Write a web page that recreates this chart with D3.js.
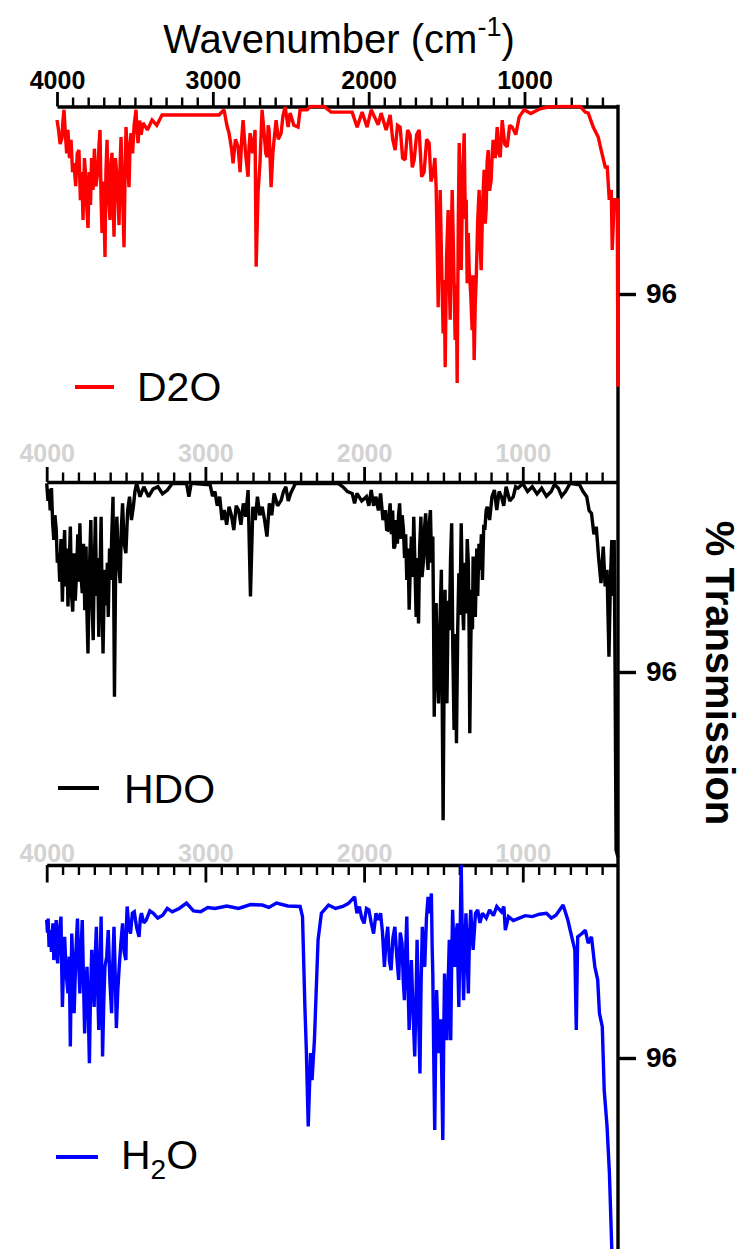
<!DOCTYPE html>
<html><head><meta charset="utf-8">
<script src="https://cdn.jsdelivr.net/npm/d3@7"></script>
<style>
body{margin:0;background:#fff;}
svg{display:block;font-family:"Liberation Sans",Arial,sans-serif;}
</style></head><body>
<svg id="chart" width="746" height="1249"></svg>
<script>
// ---------------- data ----------------
const xTickLabels = [4000, 3000, 2000, 1000];
const yTickValues = [96];
const seriesNames = ["D2O", "HDO", "H2O"];
const seriesColors = ["#ff0000", "#000000", "#0000ff"];

const d2oData = [[4000,99.71],[3990,99.5],[3980,99.2],[3968,99.33],[3962,99.7],[3955,99.93],[3946,99.4],[3938,99.0],[3930,99.5],[3920,98.9],[3910,99.29],[3900,98.6],[3891,98.79],[3880,98.3],[3870,99.0],[3859,99.07],[3850,98.0],[3841,98.6],[3833,97.58],[3824,98.9],[3814,98.43],[3808,97.8],[3801,97.41],[3793,98.6],[3785,97.9],[3778,98.9],[3769,98.22],[3760,99.1],[3750,98.3],[3737,98.65],[3730,99.2],[3724,99.50],[3717,98.0],[3711,97.30],[3702,98.4],[3692,96.79],[3686,98.6],[3679,99.29],[3670,98.1],[3660,97.58],[3653,98.8],[3647,99.01],[3640,98.0],[3634,97.22],[3625,98.9],[3615,98.50],[3608,98.0],[3602,97.47],[3595,98.8],[3589,99.35],[3580,98.2],[3570,97.00],[3563,98.6],[3557,99.56],[3548,98.9],[3538,98.28],[3531,99.2],[3525,99.43],[3515,99.0],[3505,99.6],[3493,99.93],[3487,99.5],[3480,99.22],[3470,99.7],[3460,99.4],[3448,99.65],[3420,99.5],[3390,99.71],[3360,99.6],[3326,99.82],[2960,99.82],[2928,99.93],[2910,99.6],[2896,99.43],[2880,99.1],[2870,98.79],[2855,99.3],[2838,99.14],[2825,98.60],[2815,99.3],[2806,99.71],[2790,99.0],[2774,98.50],[2768,99.1],[2761,99.43],[2745,99.0],[2729,99.50],[2722,96.58],[2710,98.15],[2697,98.82],[2684,99.93],[2671,99.43],[2660,99.0],[2652,98.92],[2645,99.6],[2639,99.50],[2626,98.28],[2615,99.0],[2607,99.29],[2594,99.71],[2580,99.3],[2562,99.43],[2550,99.8],[2536,99.99],[2517,99.56],[2504,99.86],[2480,99.6],[2453,99.56],[2440,99.93],[2395,99.93],[2376,100],[2286,100],[2241,99.88],[2106,99.88],[2074,99.56],[2042,99.88],[2010,99.56],[1984,99.93],[1939,99.61],[1920,99.86],[1888,99.50],[1862,99.82],[1846,99.3],[1830,99.07],[1815,99.6],[1798,99.56],[1782,98.9],[1766,98.86],[1750,99.5],[1734,99.39],[1720,98.7],[1708,98.86],[1692,99.4],[1676,99.50],[1660,98.5],[1644,98.60],[1628,99.3],[1612,99.22],[1600,98.4],[1586,98.58],[1575,98.9],[1567,98.28],[1560,97.0],[1554,95.72],[1547,97.4],[1541,98.22],[1531,96.5],[1522,95.16],[1515,96.3],[1509,94.44],[1500,96.8],[1490,97.79],[1483,96.4],[1477,95.45],[1470,97.2],[1464,98.22],[1455,96.8],[1445,95.02],[1438,96.2],[1432,94.10],[1425,97.5],[1419,99.22],[1412,97.8],[1406,96.51],[1396,98.6],[1387,99.43],[1380,97.6],[1374,98.01],[1368,96.23],[1361,97.3],[1355,96.51],[1345,96.0],[1336,95.23],[1330,96.4],[1323,94.59],[1316,95.8],[1310,96.30],[1300,97.6],[1291,98.22],[1285,97.1],[1278,96.51],[1268,98.0],[1259,98.65],[1252,97.5],[1246,97.79],[1240,98.8],[1233,99.07],[1224,98.2],[1214,98.43],[1207,99.0],[1201,99.29],[1188,98.9],[1175,99.56],[1165,99.0],[1156,98.92],[1143,99.71],[1127,99.2],[1111,99.14],[1095,99.6],[1079,99.56],[1056,99.4],[1034,99.78],[1002,99.93],[960,99.85],[900,99.95],[848,99.99],[771,100],[700,100],[642,100],[610,99.88],[591,99.86],[559,99.56],[527,99.35],[508,99.07],[482,98.71],[469,98.71],[456,98.01],[443,98.22],[437,96.94],[424,98.01],[405,98.01],[400,94.02]];

const hdoData = [[4000,99.97],[3992,99.6],[3985,99.85],[3978,99.4],[3970,99.87],[3962,99.1],[3955,98.78],[3948,99.3],[3940,99.0],[3933,98.3],[3925,98.50],[3918,97.9],[3910,98.8],[3901,97.48],[3895,98.4],[3887,98.99],[3880,97.8],[3873,98.6],[3866,97.38],[3858,98.3],[3851,99.06],[3843,97.6],[3836,97.27],[3828,98.5],[3820,97.5],[3812,98.08],[3804,98.9],[3798,97.9],[3791,99.13],[3783,98.0],[3776,97.66],[3768,98.7],[3760,97.3],[3752,98.64],[3746,97.2],[3740,96.39],[3731,98.1],[3722,99.20],[3714,97.4],[3707,96.67],[3700,98.3],[3693,99.27],[3686,97.6],[3679,98.4],[3672,96.74],[3664,98.1],[3657,99.27],[3651,97.5],[3645,96.39],[3639,97.6],[3633,98.15],[3624,97.4],[3618,98.3],[3612,97.16],[3604,98.6],[3597,97.94],[3590,98.9],[3582,99.69],[3573,95.48],[3565,98.4],[3558,99.27],[3548,98.3],[3537,97.87],[3530,99.0],[3522,99.55],[3512,98.7],[3501,98.50],[3490,99.4],[3478,99.69],[3466,99.2],[3454,99.48],[3444,99.8],[3433,99.97],[3412,99.69],[3388,99.90],[3358,99.69],[3330,99.85],[3299,99.90],[3270,99.75],[3239,99.83],[3209,99.97],[3119,99.97],[3104,99.69],[3090,99.97],[2970,99.94],[2955,99.7],[2940,99.80],[2925,99.5],[2910,99.69],[2895,99.2],[2881,99.41],[2866,99.1],[2851,99.48],[2836,99.3],[2821,98.99],[2806,99.5],[2791,99.41],[2776,99.1],[2761,99.55],[2746,99.27],[2731,99.83],[2716,97.59],[2701,99.48],[2686,99.2],[2672,99.69],[2657,99.3],[2642,99.48],[2627,99.2],[2612,98.85],[2597,99.55],[2582,99.3],[2567,99.76],[2545,99.5],[2522,99.62],[2508,99.8],[2493,99.90],[2478,99.6],[2463,99.76],[2433,99.97],[2164,99.97],[2134,99.90],[2105,99.8],[2075,99.76],[2060,99.55],[2045,99.76],[2015,99.6],[1985,99.69],[1970,99.5],[1955,99.83],[1940,99.5],[1925,99.69],[1910,99.4],[1896,99.76],[1881,99.2],[1866,99.41],[1858,99.0],[1851,98.99],[1843,99.3],[1836,99.55],[1828,98.9],[1820,99.4],[1813,98.6],[1806,98.64],[1798,99.2],[1790,98.7],[1783,99.3],[1776,99.55],[1768,98.8],[1760,99.3],[1752,98.99],[1745,98.4],[1738,98.9],[1731,97.94],[1723,98.6],[1716,97.31],[1709,98.2],[1702,98.85],[1694,98.0],[1687,99.27],[1680,98.3],[1672,97.16],[1665,98.4],[1657,97.02],[1650,98.6],[1642,99.27],[1635,98.0],[1627,98.29],[1620,99.0],[1612,99.34],[1605,98.5],[1597,98.15],[1590,99.1],[1582,99.41],[1575,98.3],[1567,98.85],[1562,97.0],[1558,95.06],[1552,96.8],[1546,97.45],[1539,96.0],[1531,95.34],[1522,97.0],[1513,98.15],[1508,95.5],[1502,92.88],[1496,95.8],[1490,97.73],[1484,96.2],[1478,95.34],[1470,97.5],[1463,96.88],[1455,98.4],[1448,99.13],[1441,96.5],[1433,94.78],[1426,96.8],[1418,94.50],[1410,96.9],[1403,98.08],[1396,97.2],[1388,99.13],[1380,97.5],[1373,96.88],[1366,98.3],[1358,97.23],[1350,98.8],[1343,98.29],[1338,96.8],[1334,94.71],[1328,96.5],[1322,97.73],[1317,96.9],[1313,98.43],[1306,97.5],[1299,97.16],[1290,98.6],[1284,97.6],[1276,98.7],[1269,98.15],[1261,98.9],[1254,97.94],[1246,99.1],[1239,98.99],[1231,99.4],[1224,99.48],[1209,99.2],[1194,99.69],[1179,99.83],[1164,99.41],[1149,99.8],[1134,99.69],[1120,99.5],[1105,99.90],[1082,99.6],[1060,99.69],[1045,99.9],[1030,99.87],[1000,99.97],[970,99.8],[940,99.90],[910,99.75],[881,99.87],[851,99.7],[821,99.80],[800,99.95],[776,99.87],[755,99.7],[731,99.80],[702,99.97],[642,99.94],[620,99.8],[597,99.69],[582,99.4],[567,99.34],[552,98.9],[537,99.06],[522,98.4],[507,97.87],[493,98.64],[481,97.8],[469,98.15],[463,97.2],[457,96.32],[448,97.9],[439,98.78],[431,97.6],[424,98.78],[418,95.8],[412,92.25],[400,92.10]];

const h2oData = [[4000,98.86],[3995,98.6],[3991,98.89],[3985,98.3],[3979,98.65],[3970,98.2],[3961,98.79],[3955,98.03],[3948,98.5],[3940,98.86],[3935,98.2],[3931,97.96],[3922,98.6],[3910,98.93],[3905,97.8],[3901,97.06],[3894,97.9],[3887,98.51],[3876,97.7],[3866,97.34],[3858,98.1],[3851,96.24],[3846,97.6],[3842,98.58],[3834,97.8],[3827,96.93],[3816,98.2],[3806,98.89],[3798,97.9],[3791,97.34],[3783,98.3],[3776,98.86],[3768,97.6],[3761,96.51],[3753,97.5],[3746,97.89],[3738,97.0],[3731,95.89],[3724,97.3],[3716,98.24],[3708,97.5],[3701,97.06],[3694,98.1],[3687,98.72],[3680,97.6],[3672,96.58],[3664,97.9],[3657,98.93],[3652,97.6],[3648,96.03],[3640,97.2],[3633,97.89],[3622,98.1],[3612,98.65],[3602,97.6],[3591,96.93],[3584,97.9],[3576,98.72],[3568,97.7],[3561,96.62],[3552,97.4],[3543,97.89],[3532,98.4],[3522,98.79],[3512,98.2],[3501,98.03],[3497,98.8],[3493,99.14],[3482,98.7],[3472,98.58],[3460,99.0],[3448,99.03],[3433,98.7],[3418,98.51],[3410,98.9],[3403,99.00],[3388,98.8],[3373,98.86],[3350,99.05],[3328,99.00],[3300,98.9],[3269,98.96],[3240,99.1],[3209,99.03],[3165,99.1],[3119,99.21],[3075,99.05],[3030,99.03],[2985,99.12],[2940,99.10],[2865,99.15],[2791,99.10],[2715,99.18],[2642,99.17],[2600,99.12],[2552,99.21],[2480,99.15],[2403,99.14],[2388,98.93],[2373,97.06],[2364,96.17],[2352,94.58],[2337,96.10],[2328,95.54],[2313,96.37],[2290,98.45],[2269,99.00],[2224,99.17],[2180,99.1],[2134,99.14],[2100,99.2],[2060,99.34],[2045,99.0],[2030,99.14],[2015,98.9],[2000,98.79],[1985,99.1],[1970,99.07],[1955,98.8],[1940,98.58],[1925,99.0],[1910,98.86],[1896,99.00],[1884,98.6],[1872,97.89],[1862,98.4],[1851,98.72],[1840,98.0],[1830,97.82],[1818,98.5],[1806,98.72],[1794,98.1],[1782,97.62],[1772,98.6],[1761,98.38],[1753,97.6],[1746,97.20],[1738,98.2],[1731,98.93],[1723,97.5],[1716,96.58],[1709,97.4],[1702,98.03],[1692,97.0],[1681,96.03],[1673,97.2],[1666,98.45],[1657,97.0],[1648,95.68],[1641,97.5],[1633,98.72],[1625,98.0],[1618,97.89],[1607,98.9],[1597,99.34],[1586,99.0],[1576,99.41],[1571,98.3],[1567,97.75],[1561,96.0],[1555,94.51],[1549,96.2],[1543,97.41],[1535,96.6],[1528,96.10],[1516,96.8],[1504,94.30],[1498,96.5],[1493,97.75],[1485,96.8],[1478,96.37],[1470,97.6],[1463,98.45],[1458,97.4],[1454,96.37],[1448,98.0],[1442,99.07],[1435,98.3],[1427,97.89],[1420,98.6],[1412,98.79],[1408,97.8],[1403,97.06],[1395,98.5],[1388,100.00],[1380,98.2],[1373,97.20],[1366,98.3],[1358,99.00],[1350,98.0],[1343,97.34],[1336,98.5],[1328,99.07],[1320,98.6],[1313,98.24],[1298,99.0],[1284,99.07],[1270,98.8],[1254,99.00],[1230,98.9],[1209,99.07],[1185,98.95],[1164,99.14],[1134,99.03],[1119,99.14],[1110,98.65],[1090,98.93],[1060,98.85],[1030,98.89],[985,98.95],[940,98.93],[895,98.98],[851,99.00],[820,98.9],[791,98.96],[746,99.17],[716,98.86],[687,98.45],[672,98.24],[663,96.58],[654,98.51],[627,98.58],[606,98.65],[588,98.38],[567,98.51],[546,97.89],[528,97.62],[517,96.93],[499,96.65],[487,95.34],[469,94.58],[454,93.61],[439,92.02],[425,91.50]];

const allSeries = [d2oData, hdoData, h2oData];

// ---------------- layout ----------------
const svg = d3.select("#chart");
const RIGHT = 618;
const FONT = "'Liberation Sans', Arial, sans-serif";
const panels = [
  {top:106.5, bottom:481.5, left:57,   ticksUp:true,  labelColor:"#000000", majorLen:14.5, minorLen:9,  labelPad:3},
  {top:482,   bottom:862,   left:46.7, ticksUp:true,  labelColor:"#d3d3d3", majorLen:15,   minorLen:9.5,labelPad:5},
  {top:865,   bottom:1251,  left:46.7, ticksUp:false, labelColor:"#d3d3d3", majorLen:17.5, minorLen:10, labelPad:3}
];
const legendPos = [
  {x1:75, x2:114, y:387, tx:137, ty:401},
  {x1:58, x2:99,  y:788, tx:124, ty:803},
  {x1:56, x2:98,  y:1157,tx:121, ty:1169}
];
const minorTicks = d3.range(3900, 400, -100).filter(v => v % 1000 !== 0);

const defs = svg.append("defs");
const axesLayer = svg.append("g");
const rightAxisLayer = svg.append("g");
const dataLayer = svg.append("g");

panels.forEach((p, i) => {
  const x = d3.scaleLinear().domain([4000, 400]).range([p.left, RIGHT]);
  const y = d3.scaleLinear().domain([92, 100]).range([p.bottom, p.top]);
  const g = axesLayer.append("g");

  defs.append("clipPath").attr("id", "clip" + i)
    .append("rect").attr("x", p.left - 2).attr("y", p.top - 2)
    .attr("width", RIGHT - p.left + 4).attr("height", p.bottom - p.top + 2);

  const line = d3.line().x(d => x(d[0])).y(d => y(d[1]));
  dataLayer.append("path").datum(allSeries[i])
    .attr("clip-path", "url(#clip" + i + ")")
    .attr("d", line)
    .attr("fill", "none")
    .attr("stroke", seriesColors[i])
    .attr("stroke-width", 3.4)
    .attr("stroke-linejoin", "miter")
    .attr("stroke-miterlimit", 2);

  const axisFn = p.ticksUp ? d3.axisTop : d3.axisBottom;
  const major = g.append("g").attr("transform", `translate(0,${p.top})`)
    .call(axisFn(x).tickValues(xTickLabels).tickSize(p.majorLen).tickSizeOuter(0).tickFormat(""));
  major.select(".domain").attr("stroke-width", 3.4);
  major.selectAll(".tick line").attr("stroke-width", 2.8);

  const minor = g.append("g").attr("transform", `translate(0,${p.top})`)
    .call(axisFn(x).tickValues(minorTicks).tickSize(p.minorLen).tickSizeOuter(0).tickFormat(""));
  minor.select(".domain").remove();
  minor.selectAll(".tick line").attr("stroke-width", 2.4);

  const lab = g.append("g").attr("transform", `translate(0,${p.top})`)
    .call(d3.axisTop(x).tickValues(xTickLabels).tickSize(p.ticksUp ? p.majorLen : 0)
      .tickPadding(p.labelPad).tickFormat(d3.format("d")));
  lab.select(".domain").remove();
  lab.selectAll(".tick line").remove();
  lab.selectAll(".tick text")
    .attr("fill", p.labelColor)
    .attr("font-family", FONT)
    .attr("font-size", 25)
    .attr("font-weight", "bold");

  const yax = g.append("g").attr("transform", `translate(${RIGHT},0)`)
    .call(d3.axisRight(y).tickValues(yTickValues).tickSize(18).tickPadding(10).tickFormat(d3.format("d")));
  yax.select(".domain").remove();
  yax.selectAll(".tick line").attr("stroke-width", 3.4);
  yax.selectAll(".tick text")
    .attr("font-family", FONT)
    .attr("font-size", 28)
    .attr("font-weight", "bold")
    .attr("fill", "#000");

  const lp = legendPos[i];
  g.append("line").attr("x1", lp.x1).attr("x2", lp.x2).attr("y1", lp.y).attr("y2", lp.y)
    .attr("stroke", seriesColors[i]).attr("stroke-width", 3.8);
  const t = g.append("text").attr("x", lp.tx).attr("y", lp.ty)
    .attr("font-size", 41).attr("fill", "#000");
  if (seriesNames[i] === "H2O") {
    t.append("tspan").text("H");
    t.append("tspan").text("2").attr("font-size", 28).attr("dy", 10);
    t.append("tspan").text("O").attr("dy", -10);
  } else {
    t.text(seriesNames[i]);
  }
});

rightAxisLayer.append("line").attr("x1", RIGHT).attr("x2", RIGHT)
  .attr("y1", panels[0].top - 1.7).attr("y2", 1249)
  .attr("stroke", "#000").attr("stroke-width", 3.4);

const title = svg.append("text").attr("x", 339).attr("y", 53)
  .attr("text-anchor", "middle").attr("font-size", 40).attr("fill", "#000");
title.append("tspan").text("Wavenumber (cm");
title.append("tspan").text("-1").attr("font-size", 27).attr("dy", -17);
title.append("tspan").text(")").attr("dy", 17);

svg.append("text")
  .attr("transform", "translate(706,673) rotate(90)")
  .attr("text-anchor", "middle")
  .attr("font-size", 40).attr("font-weight", "bold").attr("fill", "#000")
  .text("% Transmission");
</script>
</body></html>
